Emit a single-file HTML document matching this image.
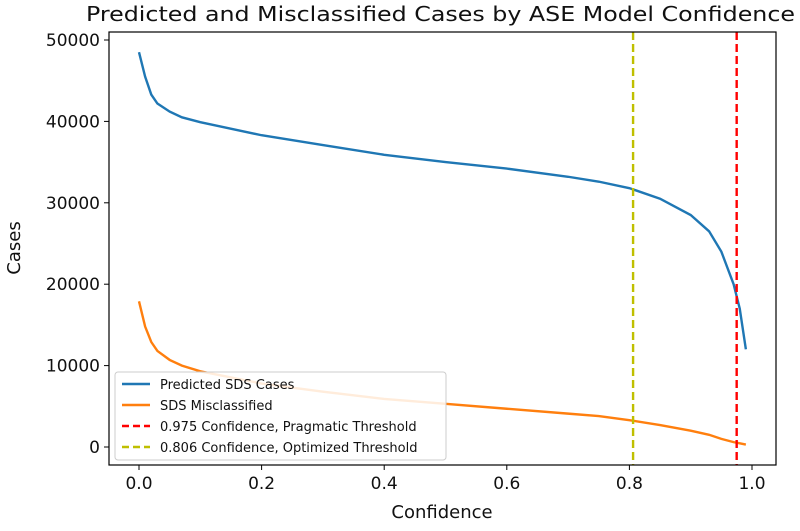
<!DOCTYPE html>
<html><head><meta charset="utf-8"><style>body{margin:0;background:#fff}svg{font-family:"DejaVu Sans","Liberation Sans",sans-serif}</style></head>
<body>
<svg id="c" width="800" height="526" viewBox="0 0 800 526">
<text x="86" y="21" font-size="20" text-anchor="start" fill="#111" textLength="709" lengthAdjust="spacingAndGlyphs">Predicted and Misclassified Cases by ASE Model Confidence</text>
<g id="plot"></g>
</svg>
<script>
const xs = [0,0.01,0.02,0.03,0.05,0.07,0.1,0.2,0.3,0.4,0.5,0.6,0.7,0.75,0.8,0.85,0.9,0.93,0.95,0.97,0.98,0.99];
const predicted = [48500,45500,43300,42200,41200,40500,39900,38300,37100,35900,35000,34200,33200,32600,31800,30500,28500,26500,24000,20000,17000,12000];
const misclassified = [17900,14800,12900,11800,10700,10000,9300,7800,6800,5900,5300,4700,4100,3800,3300,2700,2000,1500,1000,600,450,300];
const thresholds = [0.975,0.806];
const xTicks = [0,0.2,0.4,0.6,0.8,1.0];
const yTicks = [0,10000,20000,30000,40000,50000];
const NS='http://www.w3.org/2000/svg';
const X=v=>139+v*613, Y=v=>447-v*0.00814;
const g=document.getElementById('plot');
function mk(t,a,p){const e=document.createElementNS(NS,t);for(const k in a)e.setAttribute(k,a[k]);(p||g).appendChild(e);return e;}
const L=109,R=776,T=32,B=465;
xTicks.forEach(v=>{
 const t=mk('line',{x1:X(v),x2:X(v),y1:B,y2:B+5,stroke:'#000'});
 
 
 const s=mk('text',{x:X(v),y:B+24,'font-size':17,'text-anchor':'middle',fill:'#111'});s.textContent=v.toFixed(1);
 
 
});
yTicks.forEach(v=>{
 const t=mk('line',{x1:L-5,x2:L,y1:Y(v),y2:Y(v),stroke:'#000'});
 
 
 const s=mk('text',{x:L-9,y:Y(v)+6,'font-size':17,'text-anchor':'end',fill:'#111'});s.textContent=v;
 
 
});
function path(vals,col,name){
 const p=mk('polyline',{points:xs.map((x,i)=>X(x)+','+Y(vals[i])).join(' '),fill:'none',stroke:col,'stroke-width':2.4});
 
 
}
path(predicted,'#1f77b4','predicted-line');
path(misclassified,'#ff7f0e','misclassified-line');
const tc=['#ff0000','#bfbf00'];
thresholds.forEach((v,i)=>{
 const l=mk('line',{x1:X(v),x2:X(v),y1:T,y2:B,stroke:tc[i],'stroke-width':2.4,'stroke-dasharray':'8,4'});
 
 
});
const fr=mk('rect',{x:L,y:T,width:R-L,height:B-T,fill:'none',stroke:'#000','stroke-width':1.2});


const lg=mk('g',{});


mk('rect',{x:115,y:372,width:331,height:88,rx:3,fill:'#fff','fill-opacity':0.85,stroke:'#ccc'},lg);
const names=['Predicted SDS Cases','SDS Misclassified','0.975 Confidence, Pragmatic Threshold','0.806 Confidence, Optimized Threshold'];
const cols=['#1f77b4','#ff7f0e','#ff0000','#bfbf00'];
names.forEach((n,i)=>{
 const y=384+i*21;
 const ln=mk('line',{x1:122,x2:150,y1:y,y2:y,stroke:cols[i],'stroke-width':2.4,'stroke-dasharray':i>1?'7,4':'none'},lg);
 
 
 const t=mk('text',{x:160,y:y+5,'font-size':13,fill:'#111'},lg);t.textContent=n;
 
 
});
const xl=mk('text',{x:442,y:518,'font-size':18,'text-anchor':'middle',fill:'#111'});xl.textContent='Confidence';


const yl=mk('text',{x:0,y:0,'font-size':18,'text-anchor':'middle',fill:'#111',transform:'translate(20,248) rotate(-90)'});yl.textContent='Cases';


</script>
</body></html>
